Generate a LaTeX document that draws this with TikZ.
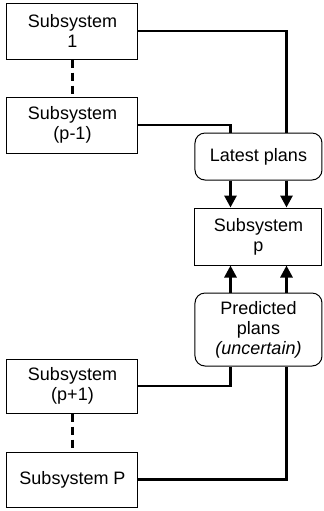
\documentclass[tikz,border=0pt]{standalone}
\usepackage{fontspec}
\setmainfont{Liberation Sans}
\usepackage{tikz}
\usetikzlibrary{arrows.meta, positioning}

\begin{document}
\begin{tikzpicture}[
      x=0.5pt, y=-0.5pt,
      node distance=19pt and 28.5pt,
      box/.style={draw, line width=0.5pt, minimum width=65.5pt, minimum height=28pt,
                  inner sep=1pt, align=center, font=\fontsize{9}{10}\selectfont},
      plan/.style={box, rounded corners=5pt, minimum width=63.5pt},
      link/.style={line width=1.4pt},
      dots/.style={line width=1.4pt, dash pattern=on 4pt off 2.5pt},
      >={Triangle[length=6pt, width=6pt]}]
    \useasboundingbox (0,0) rectangle (323,511);
    \node[box] (s1)   at (72.5,31)  {Subsystem\\1};
    \node[box] (spm1) at (72.5,125) {Subsystem\\(p-1)};
    \node[plan, minimum height=23.5pt] (latest) at (258.5,156.5) {Latest plans};
    \node[box, minimum width=63.5pt, minimum height=28.5pt] (sp) at (258.5,236.5) {Subsystem\\p};
    \node[plan, minimum height=36.5pt] (pred) at (258.5,329.5) {Predicted\\plans\\\textit{(uncertain)}};
    \node[box, minimum height=27pt] (spp1) at (72.5,386) {Subsystem\\(p+1)};
    \node[box, minimum height=27.5pt] (sP) at (72.5,479.5) {Subsystem P};
    % dashed links between neighbours
    \draw[dots] (s1) -- (spm1);
    \draw[dots] (spp1) -- (sP);
    % links into the plan boxes
    \draw[link] (s1.east)   -| ([xshift=14pt]latest.north);
    \draw[link] (spm1.east) -| ([xshift=-14pt]latest.north);
    \draw[link] (spp1.east) -| ([xshift=-14pt]pred.south);
    \draw[link] (sP.east)   -| ([xshift=14pt]pred.south);
    % arrows to subsystem p
    \draw[link, ->] ([xshift=-14pt]latest.south) -- ([xshift=-14pt]sp.north);
    \draw[link, ->] ([xshift=14pt]latest.south)  -- ([xshift=14pt]sp.north);
    \draw[link, ->] ([xshift=-14pt]pred.north) -- ([xshift=-14pt]sp.south);
    \draw[link, ->] ([xshift=14pt]pred.north)  -- ([xshift=14pt]sp.south);
\end{tikzpicture}
\end{document}
